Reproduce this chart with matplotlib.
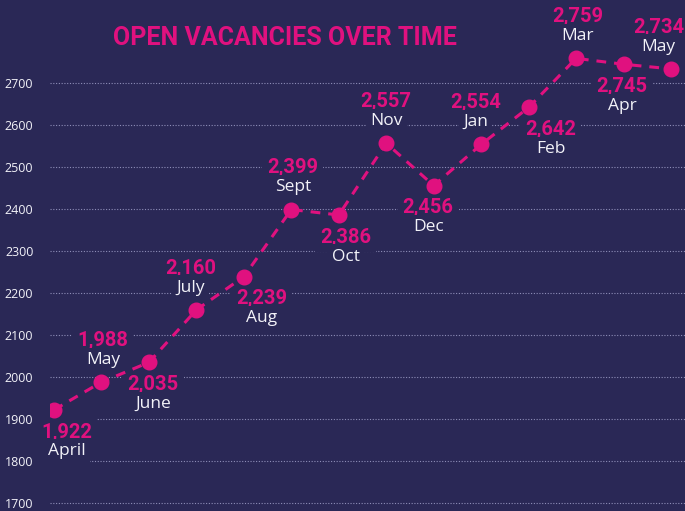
import matplotlib
matplotlib.use("Agg")
import matplotlib.pyplot as plt
from matplotlib import font_manager

months = ["April", "May", "June", "July", "Aug", "Sept", "Oct", "Nov", "Dec",
          "Jan", "Feb", "Mar", "Apr", "May"]
values = [1922, 1988, 2035, 2160, 2239, 2399, 2386, 2557, 2456, 2554, 2642,
          2759, 2745, 2734]
yticks = [1700, 1800, 1900, 2000, 2100, 2200, 2300, 2400, 2500, 2600, 2700]
title = "OPEN VACANCIES OVER TIME"

# label placement (layout only): above (+1) / below (-1) and x-shift in points
label_side = [-1, 1, -1, 1, -1, 1, -1, 1, -1, 1, -1, 1, -1, 1]
label_dx = [9, 1, 3, -4, 13, 1, 5, 0, -4, -4, 16, 1, -1, -9]

BG = "#2a2856"
MAG = "#e0117f"
WHITE = "#f2f2f8"

avail = {f.name for f in font_manager.fontManager.ttflist}
cond = "Liberation Sans Narrow" if "Liberation Sans Narrow" in avail else "Roboto"
reg = "Open Sans"

fig = plt.figure(figsize=(6.85, 5.11), dpi=100, facecolor=BG)
ax = fig.add_axes([50 / 685, 0, 635 / 685, 1])
ax.set_facecolor(BG)

x = list(range(len(values)))
ax.set_xlim(-0.084, 13.295)
ax.set_ylim(1681, 2898)

for s in ax.spines.values():
    s.set_visible(False)
ax.set_xticks([])
ax.set_yticks(yticks)
ax.tick_params(axis="y", length=0, pad=12, labelcolor=WHITE, labelsize=9)
for lab in ax.get_yticklabels():
    lab.set_fontfamily(reg)

for yv in yticks:
    ax.axhline(yv, color="#8e8eb8", lw=0.8, ls=(0, (1, 1.5)), zorder=1)

ax.plot(x, values, color=MAG, lw=2.2, ls=(0, (3.2, 2.6)), zorder=4,
        marker="o", ms=10.5, markerfacecolor=MAG, markeredgecolor=MAG)

for i, (m, v) in enumerate(zip(months, values)):
    side = label_side[i]
    dx = label_dx[i]
    if side > 0:
        dv, dm = 30, 16
    else:
        dv, dm = -16, -30
    bb = dict(boxstyle="square,pad=0.25", fc=BG, ec="none")
    ax.annotate(f"{v:,}", (i, v), xytext=(dx, dv), textcoords="offset points",
                ha="center", va="center", color=MAG, fontsize=14.5,
                fontweight="bold", family=cond, zorder=3, bbox=bb,
                annotation_clip=False)
    ax.annotate(m, (i, v), xytext=(dx, dm), textcoords="offset points",
                ha="center", va="center", color=WHITE, fontsize=12.5,
                family=reg, zorder=3, bbox=bb, annotation_clip=False)

fig.text(285 / 685, 1 - 38 / 511, title, ha="center", va="center", color=MAG,
         fontsize=18, fontweight="bold", family=cond)

fig.savefig("out.png", dpi=100, facecolor=BG)
